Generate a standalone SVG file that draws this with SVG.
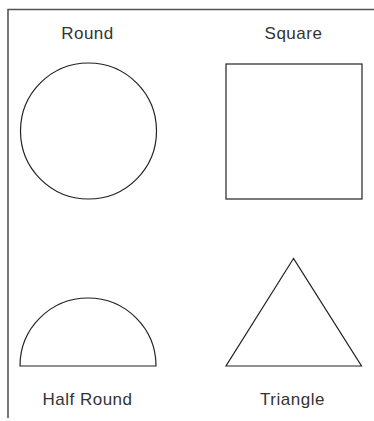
<svg xmlns="http://www.w3.org/2000/svg" width="374" height="421" viewBox="0 0 374 421">
<style>
.shape{fill:none;stroke:#222;stroke-width:1.2}
.lbl{font-family:"Liberation Sans",Arial,sans-serif;font-size:17px;fill:#333;text-anchor:middle;letter-spacing:0.5px}
.frame{fill:none;stroke:#555;stroke-width:1.6}
</style>
<rect width="374" height="421" fill="#fff"/>
<path class="frame" d="M8,418 V9.5 H374"/>
<g id="round">
<text class="lbl" x="87.5" y="39">Round</text>
<circle class="shape" cx="88.5" cy="131" r="68"/>
</g>
<g id="square">
<text class="lbl" x="293.5" y="39">Square</text>
<rect class="shape" x="226" y="64" width="136" height="135"/>
</g>
<g id="half-round">
<path class="shape" d="M20,366 A68,68 0 0 1 156,366 Z"/>
<text class="lbl" x="87.5" y="405">Half Round</text>
</g>
<g id="triangle">
<polygon class="shape" points="293.5,258.5 226,366 361.5,366"/>
<text class="lbl" x="292.5" y="405">Triangle</text>
</g>
</svg>
